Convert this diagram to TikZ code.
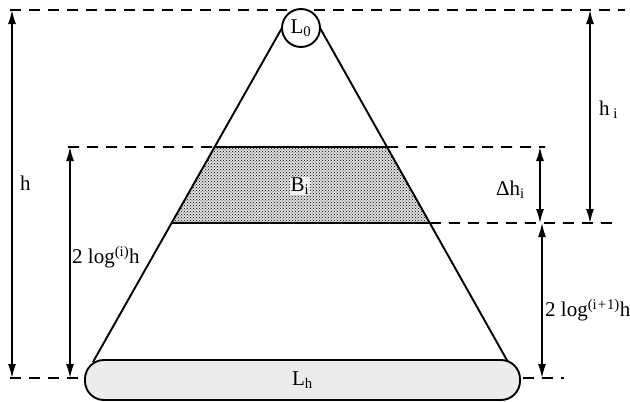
\documentclass[tikz,border=0pt]{standalone}
\usepackage{fontspec}
\setmainfont{Liberation Serif}
\usetikzlibrary{arrows.meta,calc,patterns}

\begin{document}
\begin{tikzpicture}[x=1pt,y=-1pt,
  lbl/.style={font=\fontsize{21}{24}\selectfont,inner sep=1pt},
  guide/.style={line width=1.8pt,dash pattern=on 11pt off 8pt},
  dim/.style={line width=1.5pt,{Latex[length=14pt,width=8pt]}-{Latex[length=14pt,width=8pt]}},
  edge/.style={line width=1.9pt}]
  \useasboundingbox (0,0) rectangle (630,402);
  % sides of the pyramid
  \coordinate (topL) at (282.5,27);
  \coordinate (topR) at (319.5,27);
  \coordinate (botL) at (93,362);
  \coordinate (botR) at (508,362);
  \coordinate (bTL) at ($(topL)!0.3582!(botL)$);
  \coordinate (bTR) at ($(topR)!0.3582!(botR)$);
  \coordinate (bBL) at ($(topL)!0.5851!(botL)$);
  \coordinate (bBR) at ($(topR)!0.5851!(botR)$);
  % band B_i
  \fill[gray!25] (bTL) -- (bTR) -- (bBR) -- (bBL) -- cycle;
  \fill[pattern=crosshatch dots,pattern color=black] (bTL) -- (bTR) -- (bBR) -- (bBL) -- cycle;
  \draw[edge] (topL) -- (botL) (topR) -- (botR);
  \draw[edge] (bTL) -- (bTR) (bBL) -- (bBR);
  \node[lbl,fill=gray!10] (Bi) at (300,186) {B\textsubscript{i}};
  % dashed levels
  \coordinate (g0L) at (10,10);   \coordinate (g0R) at (625,10);
  \coordinate (g1L) at (68,147);  \coordinate (g1R) at (545,147);
  \coordinate (g2R) at (612,223);
  \coordinate (g3L) at (10,378);  \coordinate (g3R) at (564,378);
  \draw[guide] (g0L) -- (g0R);
  \draw[guide] (g1L) -- (bTL) (bTR) -- (g1R);
  \draw[guide] (bBR) -- (g2R);
  \draw[guide] (g3L) -- (g3R);
  % top and bottom levels
  \node[draw,circle,edge,fill=white,minimum size=38pt,inner sep=0pt,lbl] (L0) at (301,28) {L\textsubscript{0}};
  \node[draw,edge,rounded corners=19pt,fill=gray!15,minimum width=435pt,minimum height=40pt,lbl] (Lh) at (302.5,380) {L\textsubscript{h}};
  % heights
  \coordinate (hT) at (12,10);    \coordinate (hB) at (12,378);
  \coordinate (lgT) at (70,147);  \coordinate (lgB) at (70,378);
  \coordinate (hiT) at (590,10);  \coordinate (hiB) at (590,223);
  \coordinate (dhT) at (540,147); \coordinate (dhB) at (540,223);
  \coordinate (lpT) at (542,223); \coordinate (lpB) at (542,378);
  \draw[dim] (hT) -- (hB);
  \draw[dim] (lgT) -- (lgB);
  \draw[dim] (hiT) -- (hiB);
  \draw[dim] (dhT) -- (dhB);
  \draw[dim] (lpT) -- (lpB);
  \node[lbl,anchor=west] (hlab) at (19,183) {h};
  \node[lbl,anchor=west] (lglab) at (71,257) {2 log\textsuperscript{(i)}h};
  \node[lbl,anchor=west] (hilab) at (598,110) {h\textsubscript{ i}};
  \node[lbl,anchor=east] (dhlab) at (526,190) {Δh\textsubscript{i}};
  \node[lbl,anchor=west] (lplab) at (544,310) {2 log\textsuperscript{(i\kern1pt+\kern1pt1)}h};
\end{tikzpicture}
\end{document}
